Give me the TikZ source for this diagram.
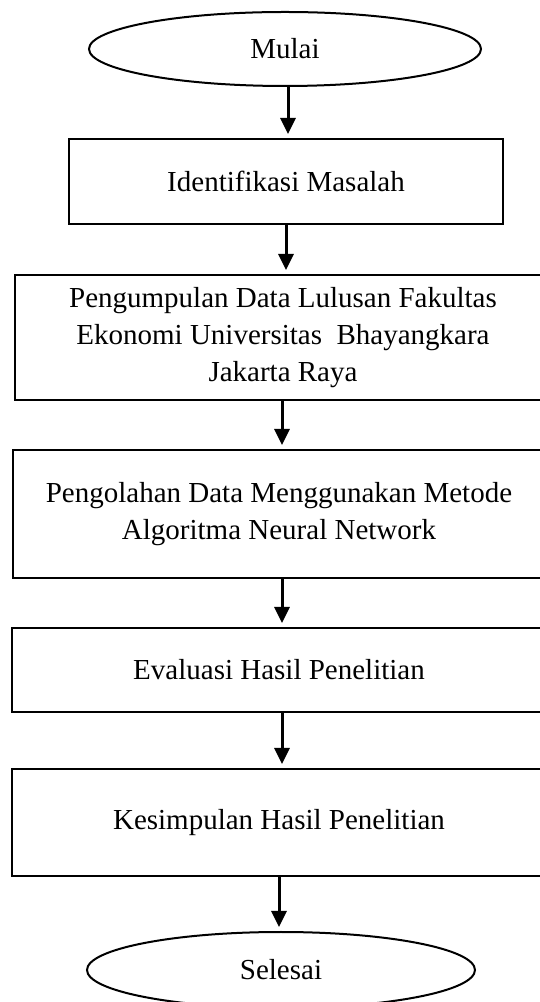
\documentclass[tikz,border=0pt]{standalone}
\usepackage{fontspec}
\setmainfont{Liberation Serif}
\usetikzlibrary{shapes.geometric,arrows.meta}
\begin{document}
\begin{tikzpicture}[x=1pt,y=1pt,
  every node/.style={font=\fontsize{29}{37}\selectfont},
  terminal/.style={ellipse,draw,line width=2pt,inner sep=0pt},
  procbox/.style={rectangle,draw,line width=2pt,inner sep=0pt,align=center},
  arr/.style={line width=3pt,-{Triangle[width=15pt,length=16pt]},shorten >=4pt}]
\useasboundingbox (0,0) rectangle (540,1002);
\clip (0,0) rectangle (540,1002);
% y_tikz = 1002 - y_px
\node[terminal,minimum width=392pt,minimum height=74pt] (mulai) at (285,953) {Mulai};
\node[procbox,minimum width=434pt,minimum height=85pt] (iden) at (286,820.5) {Identifikasi Masalah};
\node[procbox,minimum width=536pt,minimum height=125pt] (kumpul) at (283,664.5) {Pengumpulan Data Lulusan Fakultas\\Ekonomi Universitas\ \ Bhayangkara\\Jakarta Raya};
\node[procbox,minimum width=532pt,minimum height=128pt] (olah) at (279,488) {Pengolahan Data Menggunakan Metode\\Algoritma Neural Network};
\node[procbox,minimum width=534pt,minimum height=84pt] (eval) at (279,332) {Evaluasi Hasil Penelitian};
\node[procbox,minimum width=534pt,minimum height=107pt] (simpul) at (279,179.5) {Kesimpulan Hasil Penelitian};
\node[terminal,minimum width=388pt,minimum height=76pt] (selesai) at (281,32) {Selesai};
\coordinate (x1) at (288,0);
\coordinate (x2) at (286,0);
\coordinate (x3) at (282,0);
\coordinate (x6) at (279,0);
\draw[arr] (mulai.south -| x1) -- (iden.north -| x1);
\draw[arr] (iden.south -| x2) -- (kumpul.north -| x2);
\draw[arr] (kumpul.south -| x3) -- (olah.north -| x3);
\draw[arr] (olah.south -| x3) -- (eval.north -| x3);
\draw[arr] (eval.south -| x3) -- (simpul.north -| x3);
\draw[arr] (simpul.south -| x6) -- (selesai.north -| x6);
\end{tikzpicture}
\end{document}
